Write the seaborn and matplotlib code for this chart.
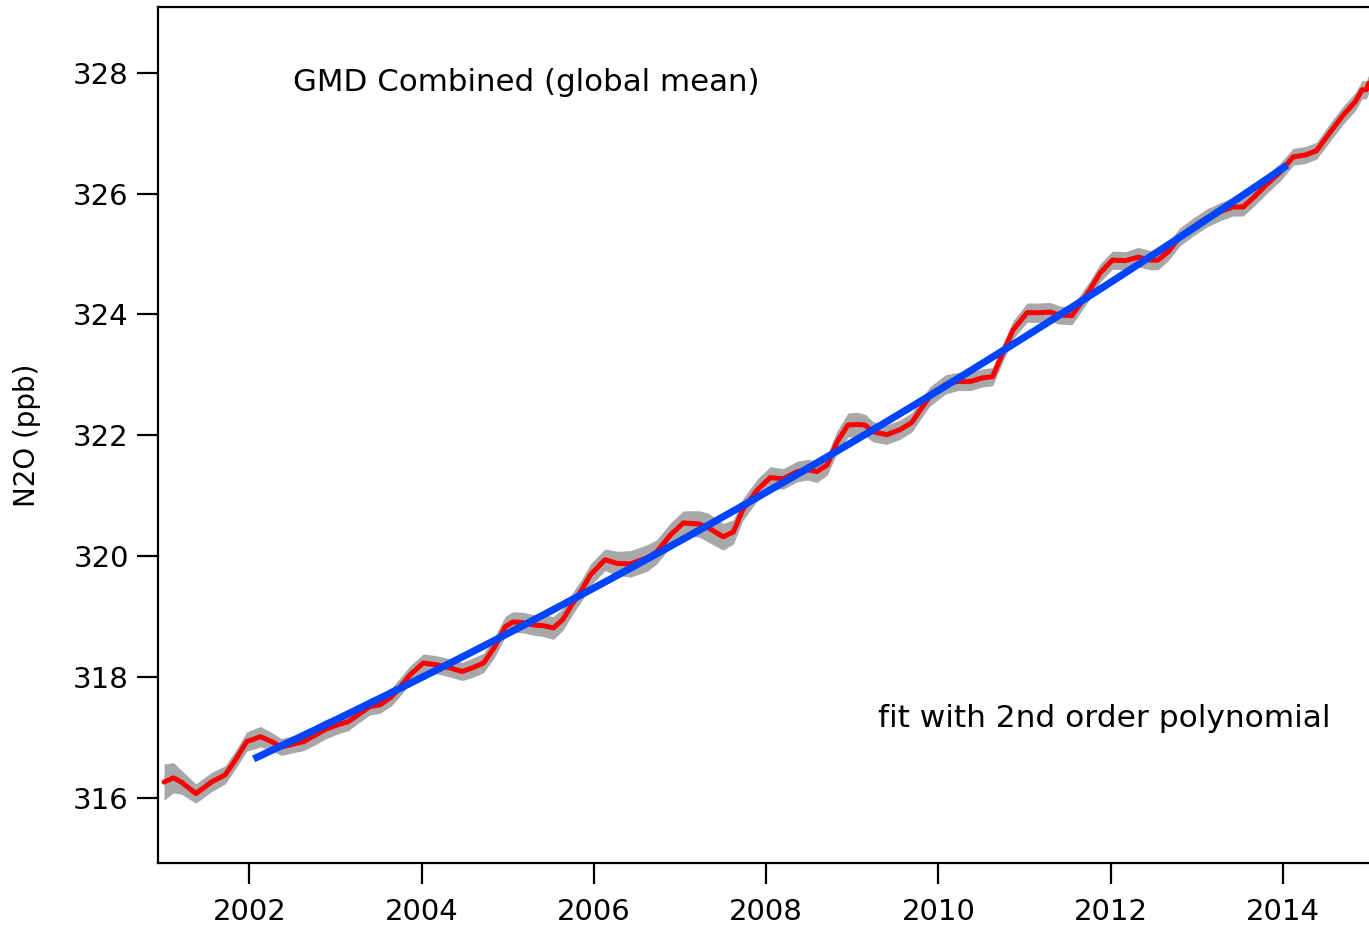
import matplotlib
matplotlib.use("Agg")
import matplotlib.pyplot as plt
import seaborn as sns
import pandas as pd
import numpy as np

# N2O global mean (GMD combined)
years = [2001.01, 2001.12, 2001.21, 2001.38, 2001.56, 2001.72, 2001.84, 2001.97,
         2002.13, 2002.26, 2002.37, 2002.49, 2002.63, 2002.77, 2002.88,
         2003.03, 2003.15, 2003.26, 2003.40, 2003.52, 2003.65, 2003.76, 2003.87,
         2004.02, 2004.18, 2004.33, 2004.47, 2004.59, 2004.72, 2004.85, 2004.97,
         2005.06, 2005.18, 2005.30, 2005.41, 2005.53, 2005.64, 2005.76, 2005.86, 2005.96,
         2006.13, 2006.27, 2006.42, 2006.62, 2006.73, 2006.89,
         2007.04, 2007.23, 2007.33, 2007.50, 2007.62, 2007.73, 2007.90,
         2008.05, 2008.20, 2008.36, 2008.48, 2008.59, 2008.71, 2008.82, 2008.95,
         2009.06, 2009.15, 2009.24, 2009.40, 2009.55, 2009.69, 2009.79, 2009.90,
         2010.08, 2010.22, 2010.37, 2010.51, 2010.63, 2010.75, 2010.87,
         2011.03, 2011.18, 2011.30, 2011.41, 2011.55, 2011.64, 2011.76, 2011.88,
         2012.02, 2012.17, 2012.32, 2012.46, 2012.55, 2012.67, 2012.80, 2012.96,
         2013.12, 2013.27, 2013.42, 2013.54, 2013.67, 2013.81, 2013.97,
         2014.12, 2014.26, 2014.39, 2014.55, 2014.70, 2014.84, 2014.92, 2014.97, 2015.00]

n2o = [316.26, 316.33, 316.26, 316.07, 316.26, 316.38, 316.63, 316.93,
       317.01, 316.93, 316.84, 316.88, 316.93, 317.04, 317.13,
       317.21, 317.26, 317.37, 317.51, 317.54, 317.67, 317.85, 318.04,
       318.23, 318.20, 318.15, 318.09, 318.15, 318.23, 318.50, 318.83,
       318.91, 318.90, 318.86, 318.85, 318.81, 318.95, 319.23, 319.44, 319.69,
       319.94, 319.88, 319.87, 319.97, 320.07, 320.35,
       320.55, 320.53, 320.47, 320.32, 320.40, 320.77, 321.10,
       321.30, 321.28, 321.40, 321.43, 321.40, 321.51, 321.88, 322.17,
       322.18, 322.17, 322.06, 322.01, 322.09, 322.21, 322.42, 322.64,
       322.84, 322.89, 322.89, 322.95, 322.97, 323.37, 323.75,
       324.03, 324.03, 324.04, 323.99, 323.98, 324.16, 324.41, 324.69,
       324.90, 324.89, 324.95, 324.90, 324.90, 325.04, 325.28, 325.45,
       325.60, 325.70, 325.78, 325.78, 325.95, 326.15, 326.36,
       326.61, 326.64, 326.71, 327.02, 327.30, 327.52, 327.72, 327.72, 327.83]

# uncertainty (half width of the grey band, ppb)
unc = [0.30, 0.25, 0.20, 0.16, 0.16, 0.15, 0.15, 0.16,
       0.17, 0.15, 0.14, 0.14, 0.15, 0.16, 0.16,
       0.15, 0.15, 0.14, 0.14, 0.14, 0.15, 0.15, 0.15,
       0.15, 0.15, 0.15, 0.15, 0.16, 0.16, 0.17, 0.17,
       0.17, 0.17, 0.17, 0.18, 0.19, 0.18, 0.18, 0.18, 0.18,
       0.18, 0.20, 0.22, 0.22, 0.20, 0.20,
       0.20, 0.22, 0.24, 0.22, 0.20, 0.18, 0.18,
       0.18, 0.17, 0.17, 0.17, 0.18, 0.17, 0.18, 0.20,
       0.20, 0.18, 0.17, 0.16, 0.16, 0.16, 0.16, 0.16,
       0.16, 0.15, 0.15, 0.15, 0.15, 0.15, 0.15,
       0.16, 0.16, 0.16, 0.15, 0.15, 0.15, 0.15, 0.15,
       0.15, 0.15, 0.16, 0.16, 0.16, 0.15, 0.15, 0.15,
       0.15, 0.15, 0.15, 0.15, 0.15, 0.15, 0.15,
       0.14, 0.14, 0.14, 0.15, 0.15, 0.15, 0.15, 0.15, 0.15]

# period used for the 2nd order polynomial fit
fit_start, fit_end = 2002.05, 2014.05

df = pd.DataFrame({"year": years, "n2o": n2o, "unc": unc})

# polynomial fit on the data inside the fit period
sel = df[(df["year"] >= fit_start - 0.1) & (df["year"] <= fit_end + 0.1)]
coef = np.polyfit(sel["year"], sel["n2o"], 2)
fit_x = np.linspace(fit_start, fit_end, 100)
df_fit = pd.DataFrame({"year": fit_x, "n2o": np.polyval(coef, fit_x)})

sns.set_style("ticks")
plt.rcParams["font.family"] = ["DejaVu Sans"]
plt.rcParams["text.color"] = "black"
plt.rcParams["axes.labelcolor"] = "black"

fig = plt.figure(figsize=(13.69, 9.32), dpi=100)
ax = fig.add_axes([158 / 1369, 69 / 932, 1 - 158 / 1369, 856 / 932])

# grey uncertainty band, red data line, blue fit
ax.fill_between(df["year"], df["n2o"] - df["unc"], df["n2o"] + df["unc"],
                color="#a8a8a8", linewidth=0)
sns.lineplot(data=df, x="year", y="n2o", color="#ff0000", linewidth=3.6,
             sort=False, estimator=None, ax=ax)
sns.lineplot(data=df_fit, x="year", y="n2o", color="#0044ff", linewidth=5.2,
             sort=False, estimator=None, ax=ax, solid_capstyle="butt")

ax.set_xlim(2000.94, 2015.0)
ax.set_ylim(314.92, 329.09)
ax.set_xticks(range(2002, 2015, 2))
ax.set_yticks(range(316, 329, 2))

for side in ["left", "bottom", "top"]:
    ax.spines[side].set_linewidth(1.6)
    ax.spines[side].set_color("black")
ax.spines["right"].set_visible(False)

ax.tick_params(axis="both", direction="out", length=15, width=1.6,
               labelsize=21, colors="black")
ax.tick_params(axis="x", pad=10)
ax.tick_params(axis="y", pad=6)

ax.set_xlabel("")
ax.set_ylabel("N2O (ppb)", fontsize=20)
ax.yaxis.set_label_coords(-0.097, 0.5)

ax.text(0.1115, 0.912, "GMD Combined (global mean)", transform=ax.transAxes,
        fontsize=22.2, ha="left", va="center")
ax.text(0.968, 0.169, "fit with 2nd order polynomial", transform=ax.transAxes,
        fontsize=22.5, ha="right", va="center")

fig.savefig("out.png", dpi=100)
